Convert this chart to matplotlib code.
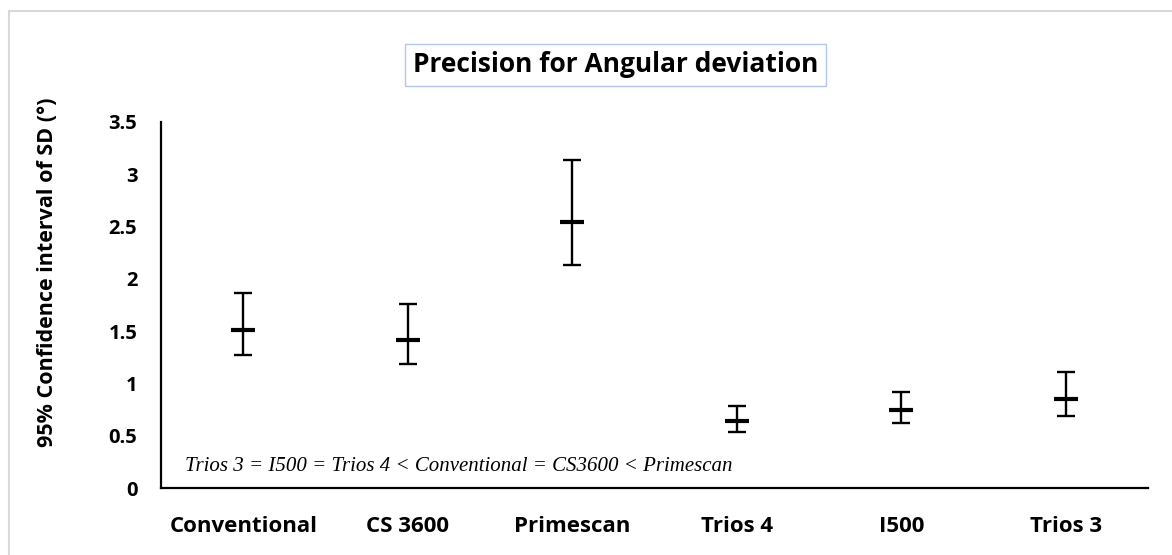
import numpy as np
import matplotlib.pyplot as plt
from matplotlib.patches import Rectangle

# data
scanners = ['Conventional', 'CS 3600', 'Primescan', 'Trios 4', 'I500', 'Trios 3']
mean_sd = [1.51, 1.42, 2.54, 0.64, 0.75, 0.85]
ci_low = [1.27, 1.19, 2.13, 0.54, 0.62, 0.69]
ci_high = [1.86, 1.76, 3.14, 0.78, 0.92, 1.11]
y_ticks = [0, 0.5, 1, 1.5, 2, 2.5, 3, 3.5]
y_tick_labels = ['0', '0.5', '1', '1.5', '2', '2.5', '3', '3.5']
note = 'Trios 3 = I500 = Trios 4 < Conventional = CS3600 < Primescan'

plt.rcParams['font.family'] = ['Open Sans', 'DejaVu Sans']

fig = plt.figure(figsize=(11.72, 5.55), dpi=100)
ax = fig.add_axes([0.1374, 0.1207, 0.8421, 0.6595])

x = np.arange(len(scanners))
mean_sd = np.array(mean_sd)
err = [mean_sd - np.array(ci_low), np.array(ci_high) - mean_sd]

ax.errorbar(x, mean_sd, yerr=err, fmt='none', ecolor='black', elinewidth=1.7,
            capsize=6.5, capthick=1.7)
ax.scatter(x, mean_sd, marker='_', s=280, linewidths=3, color='black', zorder=3)

ax.set_xlim(-0.5, len(scanners) - 0.5)
ax.set_ylim(0, 3.5)
ax.set_yticks(y_ticks)
ax.set_yticklabels(y_tick_labels, fontsize=14.5, fontweight='bold')
ax.set_xticks(x)
ax.set_xticklabels(scanners, fontsize=16, fontweight='bold')
ax.tick_params(axis='both', length=0)
ax.tick_params(axis='y', pad=17)
ax.tick_params(axis='x', pad=20)

for side in ['top', 'right']:
    ax.spines[side].set_visible(False)
ax.spines['left'].set_linewidth(1.6)
ax.spines['bottom'].set_linewidth(1.6)

fig.text(48 / 1172, 1 - 272 / 555, '95% Confidence interval of SD (°)', fontsize=15.5,
         fontweight='bold', rotation=90, ha='center', va='center')

ax.text(0.024, 0.06, note, transform=ax.transAxes, fontsize=15,
        family='Liberation Serif', style='italic', va='center', ha='left')

fig.text(0.525, 1 - 65 / 555, 'Precision for Angular deviation', fontsize=19, fontweight='bold',
         ha='center', va='center',
         bbox=dict(boxstyle='square,pad=0.3', facecolor='white', edgecolor='#b4c7e7', linewidth=1))

# light frame around the chart area
fig.patches.append(Rectangle((0.0075, -0.05), 1.1, 1.03, transform=fig.transFigure,
                             fill=False, edgecolor='#d9d9d9', linewidth=1.5, zorder=0))

fig.savefig('out.png', dpi=100)
